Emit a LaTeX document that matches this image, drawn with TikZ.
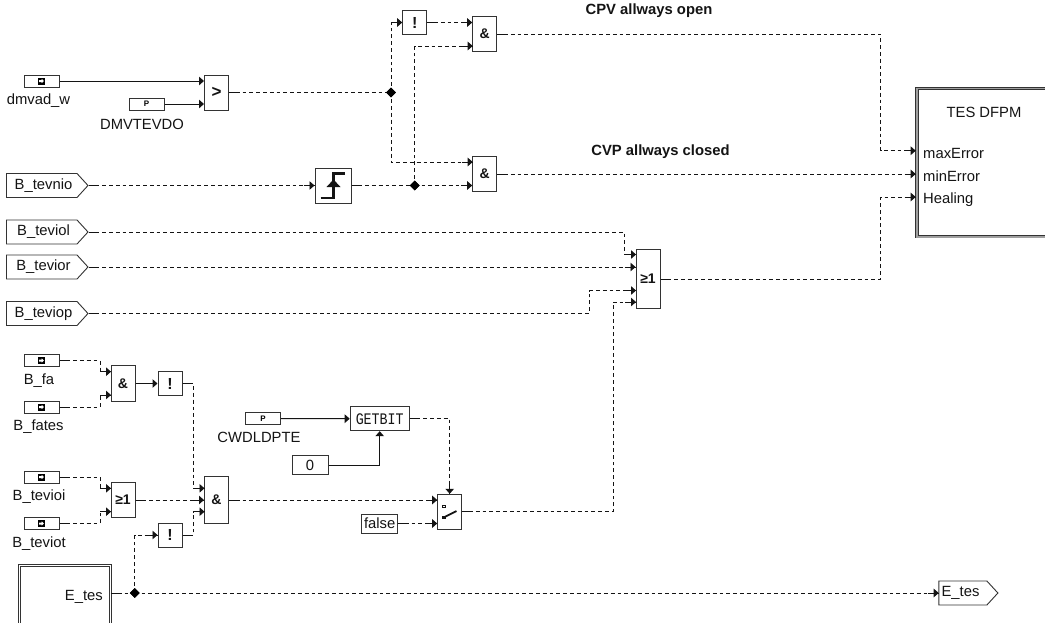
\documentclass[tikz,border=0pt]{standalone}
\usepackage{graphicx}
\usepackage{fontspec}
\setmainfont{Liberation Sans}
\newfontfamily\monof{Liberation Mono}
\usetikzlibrary{arrows.meta,shapes.symbols,shapes.geometric,decorations.markings,calc}
\definecolor{ink}{gray}{0.08}
\definecolor{edge}{gray}{0.2}
\newcommand{\labelsize}{\fontsize{14.8}{14.8}\selectfont}
\newcommand{\lowered}[1]{\raisebox{-2pt}{#1}}
\tikzset{
  blockbox/.style={draw=edge,line width=1pt,fill=white,rectangle,inner sep=0pt,minimum width=24pt,font=\fontsize{14}{14}\selectfont\bfseries,text=ink},
  sourcebox/.style={draw=edge,line width=1pt,fill=white,rectangle,inner sep=0pt,minimum width=35pt,minimum height=12pt},
  constbox/.style={draw=edge,line width=1pt,fill=white,rectangle,inner sep=0pt,text=ink,font=\labelsize},
  tagbox/.style={draw=edge,line width=0.9pt,fill=white,signal,signal to=east,signal pointer angle=95,inner sep=0pt,minimum height=24pt,text=ink,font=\labelsize},
  framebox/.style={draw=edge,double=white,double distance=1.4pt,line width=0.9pt,fill=white,rectangle,inner sep=0pt},
  thickframe/.style={draw=edge,double={gray!75},double distance=1.4pt,line width=0.9pt,fill=white,rectangle,inner sep=0pt},
  caption/.style={inner sep=0pt,text=ink,font=\labelsize},
  heading/.style={inner sep=0pt,text=ink,font=\labelsize\bfseries},
  dotjoin/.style={draw=none,fill=black,diamond,inner sep=0pt,minimum size=10pt},
  tip/.style={-{Triangle[length=5pt,width=8.5pt]}},
  solidwire/.style={draw=ink,line width=1pt,tip},
  branch/.style={draw=ink,line width=0.95pt,tip,dash pattern=on 3.8pt off 3pt,
    postaction={decorate,decoration={markings,
      mark=at position -6pt with {\draw[solid,-,ink,line width=1pt] (-5pt,0)--(6pt,0);}}}},
  wire/.style={draw=ink,line width=0.95pt,tip,dash pattern=on 3.8pt off 3pt,
    postaction={decorate,decoration={markings,
      mark=at position 0pt with {\draw[solid,-,ink,line width=1pt] (0,0)--(9pt,0);},
      mark=at position -6pt with {\draw[solid,-,ink,line width=1pt] (-5pt,0)--(6pt,0);}}}},
  feed/.style={draw=ink,line width=0.95pt,dash pattern=on 3.8pt off 3pt,
    postaction={decorate,decoration={markings,
      mark=at position 0pt with {\draw[solid,-,ink,line width=1pt] (0,0)--(9pt,0);}}}},
}
\newcommand{\srcicon}[1]{\fill[black] ($(#1)+(-3.5,-3.5)$) rectangle ++(7,7);
  \fill[white] ($(#1)+(-2.5,-1)$) -- ++(2.5,0) -- ++(0,-1.2) -- ++(2.5,2.2) -- ++(-2.5,2.2) -- ++(0,-1.2) -- ++(-2.5,0) -- cycle;}
\begin{document}
\begin{tikzpicture}[x=1pt,y=-1pt]
\clip (0,0) rectangle (1045,622);
\fill[white] (0,0) rectangle (1045,622);

% sources
\node[sourcebox] (dmvad) at (41.5,81) {};
\node[sourcebox] (dmvt) at (146.5,104) {};
\node[sourcebox] (bfa) at (41.5,360.5) {};
\node[sourcebox] (bfates) at (41.5,407) {};
\node[sourcebox] (bioi) at (41.5,477) {};
\node[sourcebox] (biot) at (41.5,523.5) {};
\node[sourcebox] (cwd) at (263,418.5) {};
\foreach \n in {dmvad,bfa,bfates,bioi,biot}{\srcicon{\n}}
\node[inner sep=0pt,font=\fontsize{8}{8}\selectfont\bfseries] (pa) at (146.5,104) {P};
\node[inner sep=0pt,font=\fontsize{8}{8}\selectfont\bfseries] (pb) at (263,418.5) {P};

\node[caption] (l1) at (38.5,100.5) {dmvad\_w};
\node[caption] (l2) at (142,124) {DMVTEVDO};
\node[caption] (l3) at (39,380.5) {B\_fa};
\node[caption] (l4) at (38.5,427) {B\_fates};
\node[caption] (l5) at (39,496.5) {B\_tevioi};
\node[caption] (l6) at (39,544) {B\_teviot};
\node[caption] (l7) at (259,437) {CWDLDPTE};

% tags
\node[tagbox,minimum width=81.5pt] (tnio) at (41.75,185.5) {\hspace*{3.5pt}\lowered{B\_tevnio}};
\node[tagbox,minimum width=81.5pt] (tiol) at (41.75,232) {\hspace*{3.5pt}\lowered{B\_teviol}};
\node[tagbox,minimum width=81.5pt] (tior) at (41.75,267) {\hspace*{3.5pt}\lowered{B\_tevior}};
\node[tagbox,minimum width=81.5pt] (tiop) at (41.75,313.5) {\hspace*{3.5pt}\lowered{B\_teviop}};
\node[tagbox,minimum width=59pt] (etag) at (962.9,593) {\lowered{E\_tes}\hspace*{4.8pt}};

% logic blocks
\node[blockbox,minimum height=35pt] (cmp) at (216.5,92.5) {\fontsize{17}{17}\selectfont >};
\node[blockbox,minimum width=36pt,minimum height=35pt] (edgeb) at (333,185.5) {};
\draw[line width=2.2pt,ink] (320.5,198) -- (333.5,198) -- (333.5,173.5) -- (345,173.5);
\fill[ink] (326.5,187) -- (333.5,179.5) -- (340.5,187) -- cycle;
\node[blockbox,minimum height=24pt,font=\fontsize{16}{16}\selectfont\bfseries] (nota) at (414.7,22.5) {!};
\node[blockbox,minimum height=35.5pt] (anda) at (484.7,34.2) {\&};
\node[blockbox,minimum height=35.5pt] (andb) at (484.7,174) {\&};
\node[blockbox,minimum height=58.5pt] (orb) at (648,279) {≥1};
\node[blockbox,minimum height=35.5pt] (andc) at (123,383.5) {\&};
\node[blockbox,minimum height=24pt,font=\fontsize{16}{16}\selectfont\bfseries] (notb) at (170,383.5) {!};
\node[blockbox,minimum height=35.5pt] (ora) at (123,500) {≥1};
\node[blockbox,minimum height=24pt,font=\fontsize{16}{16}\selectfont\bfseries] (notc) at (170,535) {!};
\node[blockbox,minimum height=47pt] (andd) at (216.5,500) {\&};
\node[blockbox,minimum width=59pt,minimum height=24pt,font=\monof\fontsize{14}{14}\selectfont] (getbit) at (379.7,418.7) {\scalebox{0.95}[1.15]{GETBIT}};
\node[constbox,minimum width=36pt,minimum height=18.5pt] (zero) at (310,465) {\lowered{0}};
\node[constbox,minimum width=35.5pt,minimum height=19pt] (false) at (379.7,523.5) {\lowered{false}};
\node[blockbox,minimum height=35pt] (sw) at (449.7,511.8) {};
\draw[line width=1.8pt,ink] (443.5,517.5) -- (456.5,511);
\fill[ink] (442,515.5) rectangle (445.5,519);
\draw[ink,line width=0.8pt] (442.8,505) rectangle (445.2,507.5);

% frames
\node[thickframe,minimum width=158pt,minimum height=148.6pt] (tes) at (996,162.5) {};
\node[framebox,minimum width=91pt,minimum height=74.4pt] (etes) at (65,602.8) {};
\node[caption] (tt) at (984,112) {TES DFPM};
\node[caption,anchor=west] (pmax) at (923,153) {maxError};
\node[caption,anchor=west] (pmin) at (923,176.5) {minError};
\node[caption,anchor=west] (pheal) at (923,199.5) {Healing};
\node[caption,anchor=east] (te) at (103,597) {E\_tes};
\node[heading] (h1) at (649,11) {CPV allways open};
\node[heading] (h2) at (660.5,151.5) {CVP allways closed};

% junctions
\node[dotjoin] (ja) at (391,92.5) {};
\node[dotjoin] (jb) at (414.7,185.5) {};
\node[dotjoin] (jc) at (134.7,593) {};

% ports and bends
\coordinate (cmpi1) at (cmp.west |- dmvad.east);
\coordinate (cmpi2) at (cmp.west |- dmvt.east);
\coordinate (andai1) at (anda.west |- nota.east);
\coordinate (andai2) at (472.7,46);
\coordinate (andbi1) at (472.7,162);
\coordinate (orbi1) at (636,254.5);
\coordinate (orbi3) at (636,290.5);
\coordinate (orbi4) at (636,302);
\coordinate (andci1) at (111,371.7);
\coordinate (andci2) at (111,395);
\coordinate (orai1) at (111,488.3);
\coordinate (orai2) at (111,511.7);
\coordinate (anddi1) at (204.5,488.3);
\coordinate (anddi3) at (204.5,511.7);
\coordinate (swi2) at (sw.west |- false.east);
\coordinate (maxp) at (915.7,150.7);
\coordinate (minp) at (915.7,174);
\coordinate (healp) at (915.7,197);
\coordinate (etagw) at (938.7,593);

% connectors
\draw[solidwire] (dmvad.east) -- (cmpi1);
\draw[solidwire] (dmvt.east) -- (cmpi2);
\draw[feed] (cmp.east) -- (ja.center);
\draw[branch] (ja.center) |- (nota.west);
\draw[branch] (ja.center) |- (andbi1);
\draw[wire] (tnio.east) -- (edgeb.west);
\draw[feed] (edgeb.east) -- (jb.center);
\draw[branch] (jb.center) -- (andb.west |- jb.east);
\draw[branch] (jb.center) |- (andai2);
\draw[wire] (nota.east) -- (andai1);
\draw[wire] (anda.east) -| (880.7,150.7) -- (maxp);
\draw[wire] (andb.east) -- (minp |- andb.east);
\draw[wire] (orb.east) -| (880.7,197) -- (healp);
\draw[wire] (tiol.east) -| (624.3,254.5) -- (orbi1);
\draw[wire] (tior.east) -- (orb.west |- tior.east);
\draw[wire] (tiop.east) -| (589.3,290.5) -- (orbi3);
\draw[wire] (sw.east) -| (613,302) -- (orbi4);
\draw[wire] (bfa.east) -| (100,371.7) -- (andci1);
\draw[wire] (bfates.east) -| (100,395) -- (andci2);
\draw[solidwire] (andc.east) -- (notb.west);
\draw[wire] (notb.east) -| (193.5,488.3) -- (anddi1);
\draw[wire] (bioi.east) -| (100,488.3) -- (orai1);
\draw[wire] (biot.east) -| (100,511.7) -- (orai2);
\draw[wire] (ora.east) -- (andd.west);
\draw[wire] (notc.east) -| (193.5,511.7) -- (anddi3);
\draw[branch] (jc.center) |- (notc.west);
\draw[wire] (andd.east) -- (sw.west |- andd.east);
\draw[wire] (false.east) -- (swi2);
\draw[solidwire] (cwd.east) -- (getbit.west);
\draw[solidwire] (zero.east) -| (getbit.south);
\draw[wire] (getbit.east) -| (sw.north);
\draw[feed] (etes.east |- jc) -- (jc.center);
\draw[branch] (jc.center) -- (etagw);
\node[dotjoin] (ja2) at (ja.center) {};
\node[dotjoin] (jb2) at (jb.center) {};
\node[dotjoin] (jc2) at (jc.center) {};
\end{tikzpicture}
\end{document}
